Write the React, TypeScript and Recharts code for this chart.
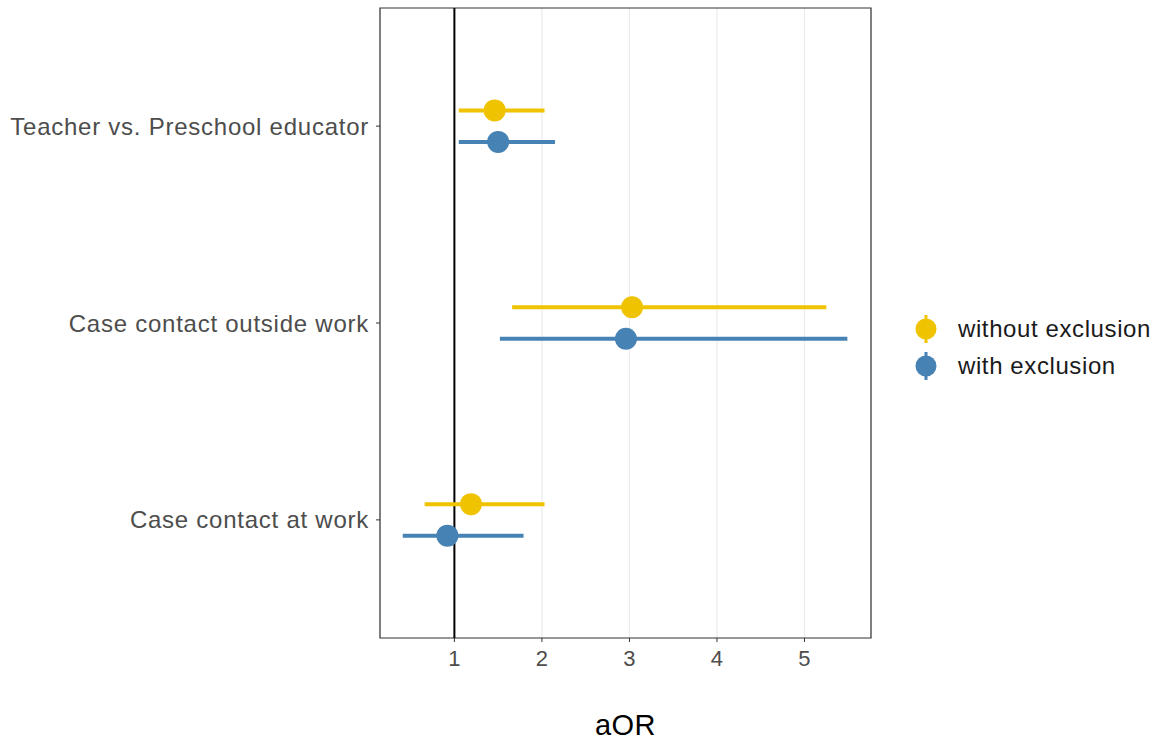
import React from "react";
import {
  ScatterChart,
  Scatter,
  XAxis,
  YAxis,
  CartesianGrid,
  ReferenceLine,
  ReferenceArea,
  ErrorBar,
} from "recharts";

const categories = [
  "Teacher vs. Preschool educator",
  "Case contact outside work",
  "Case contact at work",
];

// without exclusion
const withoutEst = [1.46, 3.03, 1.19];
const withoutLow = [1.05, 1.66, 0.66];
const withoutHigh = [2.03, 5.25, 2.03];

// with exclusion
const withEst = [1.5, 2.96, 0.92];
const withLow = [1.05, 1.52, 0.41];
const withHigh = [2.15, 5.49, 1.79];

const xTicks = [1, 2, 3, 4, 5];
const YELLOW = "#EFC300";
const BLUE = "#4682B4";
const DODGE = 0.08;
const FONT = "Liberation Sans, Arial, sans-serif";

const build = (est: number[], lo: number[], hi: number[], shift: number) =>
  categories.map((c, i) => ({
    cat: c,
    y: i + 1 + shift,
    x: est[i],
    err: [est[i] - lo[i], hi[i] - est[i]],
  }));

const withoutData = build(withoutEst, withoutLow, withoutHigh, -DODGE);
const withData = build(withEst, withLow, withHigh, DODGE);

const dot = (color: string) => (props: any) =>
  <circle cx={props.cx} cy={props.cy} r={11} fill={color} />;

function Key({ color }: { color: string }) {
  return (
    <svg width={30} height={30} style={{ display: "block" }}>
      <line x1={15} y1={1} x2={15} y2={29} stroke={color} strokeWidth={3} />
      <circle cx={15} cy={15} r={10.5} fill={color} />
    </svg>
  );
}

const legendItems = [
  { label: "without exclusion", color: YELLOW },
  { label: "with exclusion", color: BLUE },
];

function LegendBox() {
  return (
    <div
      style={{
        position: "absolute",
        left: 911,
        top: 310,
        fontFamily: FONT,
      }}
    >
      {legendItems.map((it) => (
        <div
          key={it.label}
          style={{ display: "flex", alignItems: "center", height: 37 }}
        >
          <Key color={it.color} />
          <span
            style={{
              marginLeft: 17,
              fontSize: 24,
              letterSpacing: 0.6,
              color: "#1a1a1a",
            }}
          >
            {it.label}
          </span>
        </div>
      ))}
    </div>
  );
}

export default function App() {
  return (
    <div
      style={{
        position: "absolute",
        left: 0,
        top: 0,
        width: 1163,
        height: 742,
        background: "#fff",
      }}
    >
      <ScatterChart
        width={1163}
        height={742}
        margin={{ top: 8, right: 292, left: 0, bottom: 0 }}
        style={{ fontFamily: FONT }}
      >
        <CartesianGrid horizontal={false} stroke="#EBEBEB" strokeWidth={1.2} />
        <XAxis
          type="number"
          dataKey="x"
          domain={[0.15, 5.76]}
          ticks={xTicks}
          allowDataOverflow
          height={104}
          tickSize={4}
          tickMargin={8}
          axisLine={false}
          tickLine={{ stroke: "#333" }}
          tick={{ fontSize: 22, fill: "#4D4D4D" }}
          label={{
            value: "aOR",
            position: "insideBottom",
            offset: 7,
            style: { fontSize: 29, fill: "#000", letterSpacing: 0.5 },
          }}
        />
        <YAxis
          type="number"
          dataKey="y"
          domain={[0.4, 3.6]}
          ticks={[1, 2, 3]}
          reversed
          allowDataOverflow
          width={380}
          tickSize={4}
          tickMargin={7}
          axisLine={false}
          tickLine={{ stroke: "#333" }}
          tickFormatter={(v: number) => categories[v - 1]}
          tick={{ fontSize: 24, fill: "#4D4D4D", letterSpacing: 0.75 }}
        />
        <ReferenceArea
          x1={0.15}
          x2={5.76}
          y1={0.4}
          y2={3.6}
          fill="none"
          stroke="#333"
          strokeWidth={1.2}
          fillOpacity={0}
          ifOverflow="visible"
        />
        <ReferenceLine x={1} stroke="#000" strokeWidth={2} />
        <Scatter
          name="without exclusion"
          data={withoutData}
          shape={dot(YELLOW)}
          isAnimationActive={false}
        >
          <ErrorBar
            dataKey="err"
            direction="x"
            width={0}
            stroke={YELLOW}
            strokeWidth={4}
            isAnimationActive={false}
          />
        </Scatter>
        <Scatter
          name="with exclusion"
          data={withData}
          shape={dot(BLUE)}
          isAnimationActive={false}
        >
          <ErrorBar
            dataKey="err"
            direction="x"
            width={0}
            stroke={BLUE}
            strokeWidth={4}
            isAnimationActive={false}
          />
        </Scatter>
      </ScatterChart>
      <LegendBox />
    </div>
  );
}
